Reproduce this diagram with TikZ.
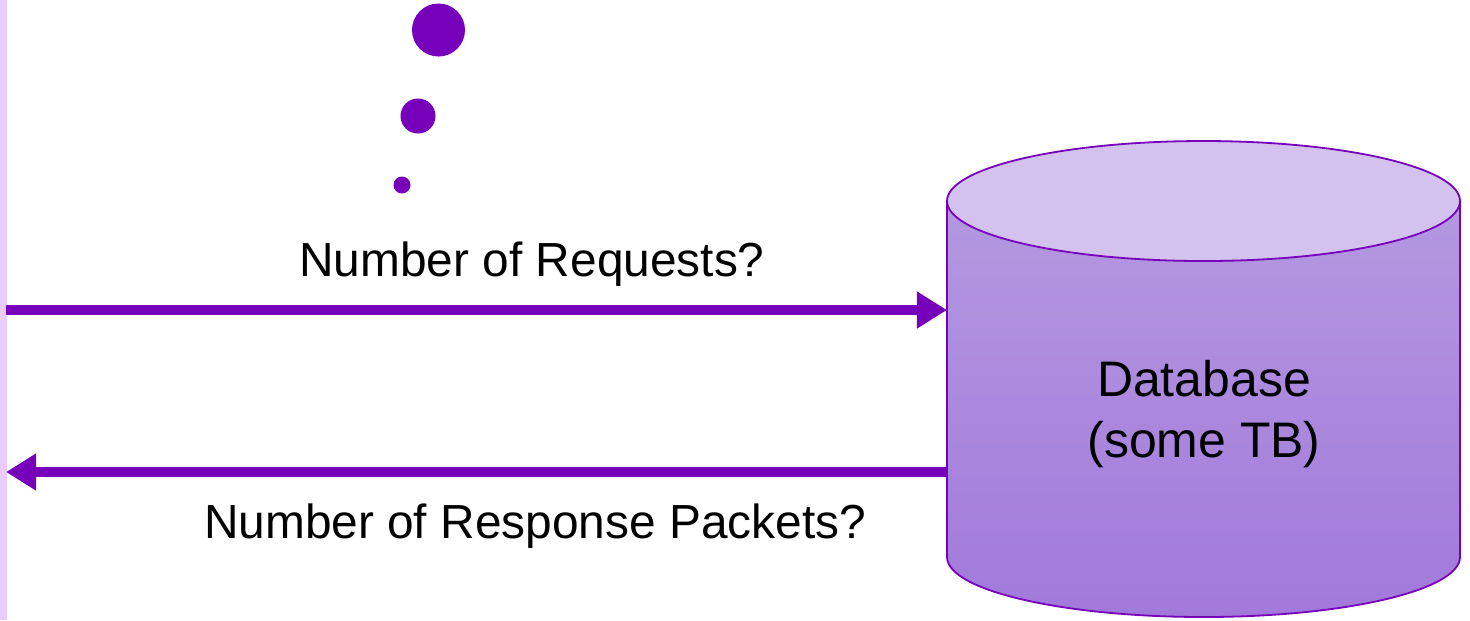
\documentclass[tikz,border=0pt]{standalone}
\usepackage{fontspec}
\setmainfont{Liberation Sans}
\usetikzlibrary{arrows.meta}
\definecolor{dbline}{HTML}{7700BB}
\definecolor{dbtop}{HTML}{D3C1EE}
\definecolor{dbupper}{HTML}{B498E0}
\definecolor{dblower}{HTML}{A279DB}
\definecolor{strip}{HTML}{EBCCFF}
\tikzset{
  dot/.style={circle,fill=dbline,inner sep=0pt},
  label/.style={font=\fontsize{13.6pt}{17pt}\selectfont,inner sep=0pt,align=center},
  dblabel/.style={font=\fontsize{14.2pt}{17.3pt}\selectfont,inner sep=0pt,align=center},
  flow/.style={dbline,line width=0.1cm,-{Triangle[length=0.3cm,width=0.35cm]},shorten >=0pt}
}
\begin{document}
\begin{tikzpicture}[x=0.01cm,y=-0.01cm]
      \useasboundingbox (0,0) rectangle (1470,620);
      \fill[strip] (0,0) rectangle (7,620);
      % database
      \shade[top color=dbupper,bottom color=dblower,draw=dbline,line width=0.018cm]
        (947,201) -- (947,557) arc[start angle=180,end angle=360,x radius=256.5,y radius=-60]
        -- (1460,201) -- cycle;
      \draw[fill=dbtop,draw=dbline,line width=0.018cm] (1203.5,201) ellipse[x radius=256.5,y radius=60];
      \draw
        (1204,414) node[dblabel] (db){Database\\(some TB)}
        (438.5,30) node[dot,minimum size=0.53cm] (big){}
        (418,116) node[dot,minimum size=0.35cm] (mid){}
        (402,185) node[dot,minimum size=0.17cm] (small){}
        (532,264) node[label] (req){Number of Requests?}
        (535,526) node[label] (resp){Number of Response Packets?};
      \coordinate (reqfrom) at (6,310);
      \coordinate (reqto) at (947,310);
      \coordinate (respfrom) at (947,472);
      \coordinate (respto) at (6,472);
      \begin{scope}[flow]
        \draw (reqfrom) to (reqto);
        \draw (respfrom) to (respto);
      \end{scope}
    \end{tikzpicture}
\end{document}
